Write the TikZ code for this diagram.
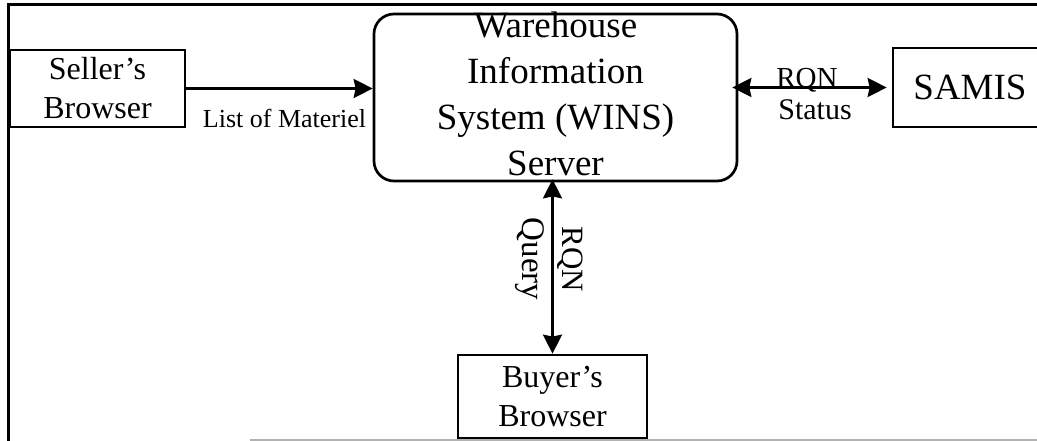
\documentclass[tikz,border=0pt]{standalone}
\usepackage{fontspec}
\setmainfont{Liberation Serif}
\usetikzlibrary{arrows.meta}
\begin{document}
\begin{tikzpicture}[x=1pt,y=-1pt,
  box/.style={draw,line width=2.7pt,inner sep=0pt,align=center},
  lbl/.style={inner sep=0pt,anchor=base},
  arr/.style={line width=2.7pt,-{Stealth[inset=2pt,length=19pt,width=19pt]}},
  darr/.style={line width=2.7pt,{Stealth[inset=2pt,length=19pt,width=19pt]}-{Stealth[inset=2pt,length=19pt,width=19pt]}},
  fA/.style={font=\fontsize{32}{39}\selectfont},
  fB/.style={font=\fontsize{37}{46}\selectfont}]
\useasboundingbox (0,0) rectangle (1037,441);
% frame
\draw[line width=3pt] (8,441) -- (8,5) -- (1037,5);
\draw[line width=1.2pt,gray!60] (250,440) -- (1037,440);
% boxes
\node[box,fA,minimum width=175pt,minimum height=77pt] (seller) at (97.5,88.5) {Seller’s\\Browser};
\node[box,rounded corners=20pt,minimum width=363pt,minimum height=167pt] (wins) at (555.5,97.5) {};
\node[inner sep=0pt,align=center,fB,anchor=north] (winstext) at (555.5,11.7) {Warehouse\\Information\\System (WINS)\\Server};
\node[box,fB,minimum width=154pt,minimum height=79pt] (samis) at (970,87.5) {SAMIS};
\node[box,fA,minimum width=189pt,minimum height=83pt] (buyer) at (552.5,396.5) {Buyer’s\\Browser};
% connectors
\draw[arr] (seller.east) -- (seller.east -| wins.west);
\draw[darr,shorten <=-6pt,shorten >=5pt] (wins.east |- samis.west) -- (samis.west);
\draw[darr,shorten <=-3pt] (buyer.north |- wins.south) -- (buyer.north);
% labels
\node[lbl,font=\fontsize{26}{30}\selectfont] (l1) at (284.5,128) {List of Materiel};
\node[lbl,font=\fontsize{29}{34}\selectfont] (l2) at (807,88) {RQN};
\node[lbl,font=\fontsize{30}{36}\selectfont] (l3) at (815,120) {Status};
\node[lbl,rotate=-90,font=\fontsize{31}{36}\selectfont] (l4) at (562,259.5) {RQN};
\node[lbl,rotate=-90,font=\fontsize{33}{38}\selectfont] (l5) at (522,259) {Query};
\end{tikzpicture}
\end{document}
